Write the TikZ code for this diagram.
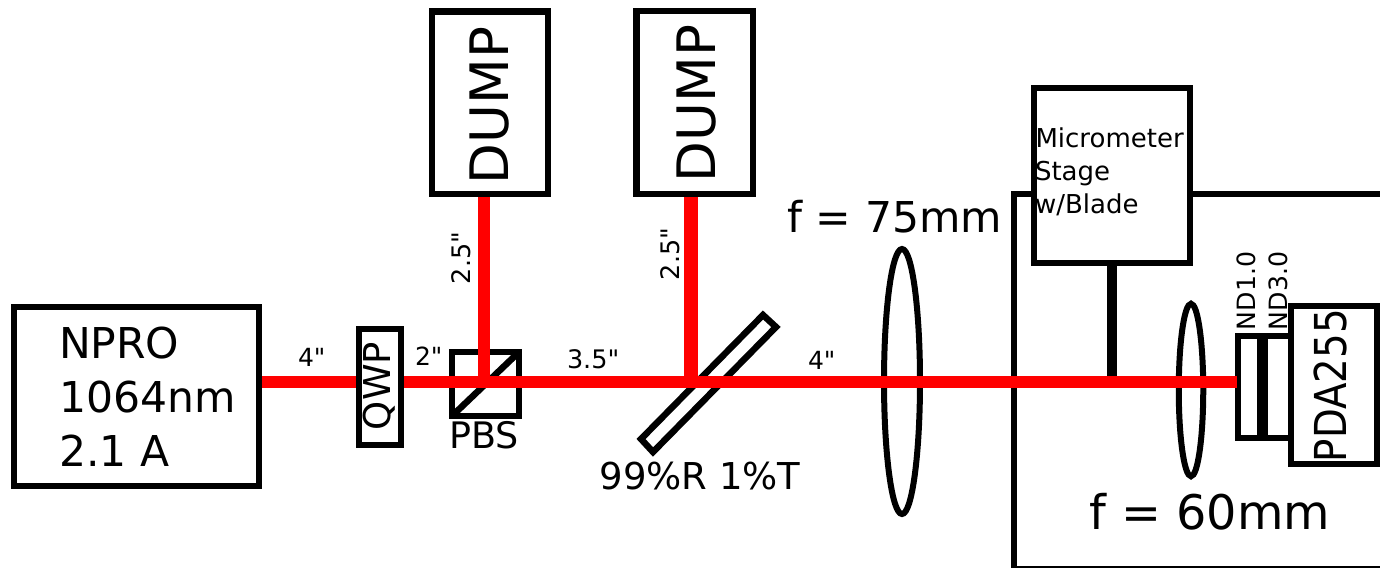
\documentclass[tikz,border=0pt]{standalone}
\usepackage{fontspec}
\setmainfont{DejaVu Sans}
\newfontfamily\straightq{DejaVu Sans}
\usetikzlibrary{calc,shapes.geometric}
\newcommand{\fs}[1]{\straightq\fontsize{#1}{#1}\selectfont}
\tikzset{
  x=1pt,y=-1pt,
  optic/.style={draw=black,rectangle,inner sep=0pt,outer sep=0pt,line width=6.5pt,fill=white},
  openoptic/.style={draw=black,line width=6.5pt,line join=miter},
  lens/.style={draw=black,ellipse,line width=6pt,inner sep=0pt,outer sep=0pt},
  beam/.style={draw=red,line width=12pt},
  txt/.style={inner sep=0pt,outer sep=0pt,anchor=base west,text=black},
  vtxt/.style={txt,rotate=90},
}
\begin{document}
\begin{tikzpicture}
\useasboundingbox (0,0) rectangle (1380,567);
\coordinate (axis) at (0,382);
\coordinate (pbspoint) at (483.5,382);
\coordinate (mirrorpoint) at (691,382);
% enclosure
\coordinate (encA) at (1380,194);
\coordinate (encB) at (1014,194);
\coordinate (encC) at (1014,569.5);
\coordinate (encD) at (1380,569.5);
\draw[openoptic] (encA) -- (encB) -- (encC) -- (encD);
% boxes behind the beam
\node[optic,minimum width=245pt,minimum height=179pt] (npro) at (136.5,396.5) {};
\node[optic,minimum width=116pt,minimum height=182.5pt] (dumpa) at (490,102.75) {};
\node[optic,minimum width=116.5pt,minimum height=183pt] (dumpb) at (694.5,102.5) {};
\node[optic,minimum width=156pt,minimum height=175pt] (stage) at (1112,175.5) {};
\draw[black,line width=10pt] (stage.south) -- (stage.south |- axis);
% PBS cube
\node[optic,fill=none,minimum width=67pt,minimum height=64pt] (pbs) at (485.5,384) {};
\draw[black,line width=6.5pt] (pbs.south west) -- (pbs.north east);
% mirror
\coordinate (ma) at (763,315);
\coordinate (mb) at (776,327);
\coordinate (mc) at (653,452);
\coordinate (md) at (641,439);
\draw[openoptic] (ma) -- (mb) -- (mc) -- (md) -- cycle;
% lenses
\node[lens,minimum width=36pt,minimum height=265pt] (lensa) at (902,381.5) {};
\node[lens,minimum width=24.5pt,minimum height=172.5pt] (lensb) at (1191,390) {};
% filters and detector (behind the beam end)
\node[optic,line width=6pt,minimum width=32pt,minimum height=102pt] (ndb) at (1280.5,387) {};
\node[optic,line width=6pt,minimum width=21.5pt,minimum height=102pt] (nda) at (1249,387) {};
\node[optic,minimum width=86pt,minimum height=158pt] (pda) at (1334,385) {};
% beams
\draw[beam,shorten <=3pt] (pbspoint |- dumpa.south) -- (pbspoint);
\draw[beam,line width=14pt,shorten <=3pt] (mirrorpoint |- dumpb.south) -- (mirrorpoint);
\draw[beam,shorten <=3pt,shorten >=1pt] (npro.east |- axis) -- (nda.west |- axis);
% QWP on top of the beam
\node[optic,minimum width=42pt,minimum height=116pt] (qwp) at (380,387) {};
% texts
\node[txt,font=\fs{42.5}] (t1) at (59,358) {NPRO};
\node[txt,font=\fs{42.5}] (t2) at (59,412) {1064nm};
\node[txt,font=\fs{42.5}] (t3) at (59,466) {2.1 A};
\node[vtxt,font=\fs{53}] (t4) at (508.5,184) {DUMP};
\node[vtxt,font=\fs{53}] (t5) at (715,182) {DUMP};
\node[vtxt,font=\fs{37}] (t6) at (390,430) {QWP};
\node[txt,font=\fs{36.5}] (t7) at (449,448) {PBS};
\node[txt,font=\fs{37}] (t8) at (599.5,489) {99\%R 1\%T};
\node[txt,font=\fs{25}] (t9) at (298,366) {4"};
\node[txt,font=\fs{25}] (t10) at (415,365) {2"};
\node[txt,font=\fs{25.5}] (t11) at (567,368) {3.5"};
\node[txt,font=\fs{25}] (t12) at (808,369) {4"};
\node[vtxt,font=\fs{25.5}] (t13) at (470,284) {2.5"};
\node[vtxt,font=\fs{25.5}] (t14) at (679,280) {2.5"};
\node[txt,font=\fs{42.5}] (t15) at (787.5,232) {f = 75mm};
\node[txt,font=\fs{47.7}] (t16) at (1089.5,529) {f = 60mm};
\node[txt,font=\fs{26}] (t17) at (1035.5,147) {Micrometer};
\node[txt,font=\fs{26}] (t18) at (1035,180) {Stage};
\node[txt,font=\fs{26}] (t19) at (1035,213) {w/Blade};
\node[vtxt,font=\fs{25.2}] (t20) at (1255,330) {ND1.0};
\node[vtxt,font=\fs{25.2}] (t21) at (1287,330) {ND3.0};
\node[vtxt,font=\fs{44}] (t22) at (1346,462) {\scalebox{.88}[1]{PDA255}};
\end{tikzpicture}
\end{document}
